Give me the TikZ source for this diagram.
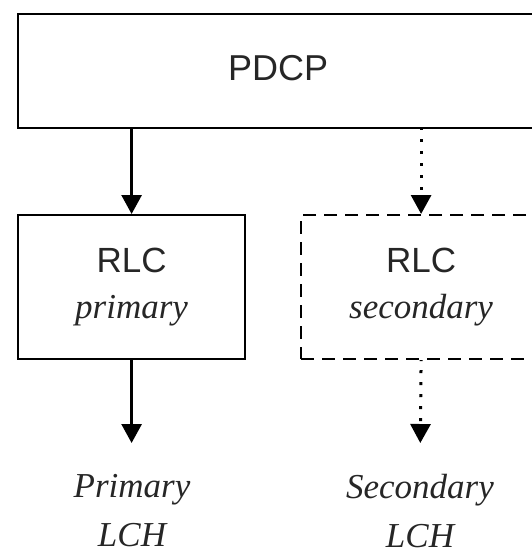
\documentclass[tikz,border=0pt]{standalone}
\usepackage{fontspec}
\setmainfont{Liberation Serif}
\setsansfont{Liberation Sans}
\usetikzlibrary{arrows.meta}
\begin{document}
\begin{tikzpicture}[x=1pt,y=-1pt,
  layerbox/.style={draw, line width=2.2pt, inner sep=0pt, align=center,
    text=black!85, font=\fontsize{35}{46}\selectfont},
  optbox/.style={layerbox, dash pattern=on 13pt off 8pt},
  chantext/.style={inner sep=0pt, align=center, text=black!85,
    font=\itshape\fontsize{35}{49}\selectfont},
  flow/.style={line width=2.8pt, -{Triangle[width=20pt,length=19pt]}},
  optflow/.style={flow, line width=3pt,
    dash pattern=on 3pt off 9pt, dash phase=-10pt,
    -{Triangle[width=20pt,length=19pt]}}]
\useasboundingbox (0,0) rectangle (532,554);
\clip (0,0) rectangle (532,554);

% protocol layers
\node[layerbox, anchor=north west, minimum width=520pt, minimum height=114pt,
  font=\sffamily\fontsize{36}{40}\selectfont, text depth=6pt] (pdcp) at (17,13) {PDCP};
\node[layerbox, anchor=north west, minimum width=227pt, minimum height=144pt] (rlcp) at (17,214)
  {{\sffamily RLC}\\{\itshape primary}};
\node[optbox, anchor=north west, minimum width=240pt, minimum height=144pt] (rlcs) at (300,214)
  {{\sffamily RLC}\\{\itshape secondary}};

% logical channels
\node[chantext, anchor=north] (lchp) at (132,474) {Primary\\LCH};
\node[chantext, anchor=north] (lchs) at (420,474) {Secondary\\LCH};

% data paths
\draw[flow] (pdcp.south -| rlcp.north) -- (rlcp.north);
\draw[optflow] (pdcp.south -| rlcs.north) -- (rlcs.north);
\draw[flow, shorten >=31pt] (rlcp.south) -- (rlcp.south |- lchp.north);
\draw[optflow, shorten >=31pt] (rlcs.south) -- (lchs.north);
\end{tikzpicture}
\end{document}
